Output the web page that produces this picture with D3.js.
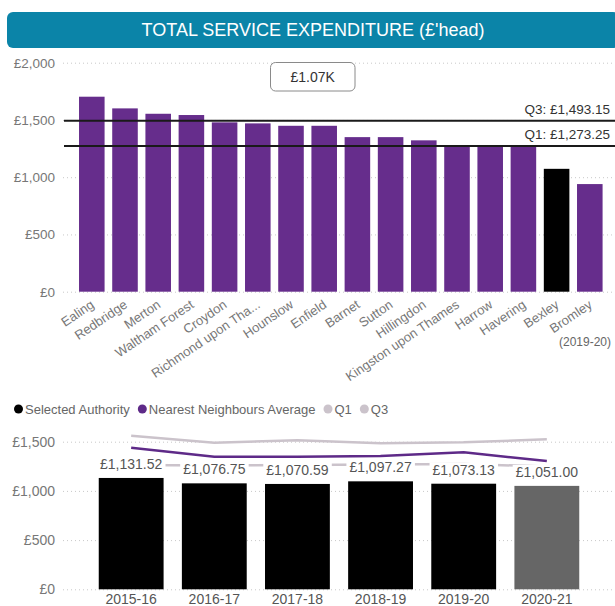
<!DOCTYPE html>
<html>
<head>
<meta charset="utf-8">
<script src="https://cdn.jsdelivr.net/npm/d3@7"></script>
<style>
  body { margin:0; background:#fff; }
  svg { display:block; font-family:"Segoe UI","Liberation Sans",Arial,sans-serif; }
</style>
</head>
<body>
<div id="chart"></div>
<script>
// top chart: spend per head by borough (2019-20)
const boroughs = ["Ealing","Redbridge","Merton","Waltham Forest","Croydon","Richmond upon Tha...","Hounslow","Enfield","Barnet","Sutton","Hillingdon","Kingston upon Thames","Harrow","Havering","Bexley","Bromley"]
const spend = [1703,1601,1554,1543,1479,1470,1449,1449,1350,1350,1322,1280,1278,1278,1073.13,940]
const selected = "Bexley"
const quartiles = [{name:"Q3",value:1493.15},{name:"Q1",value:1273.25}]
const topTicks = [0,500,1000,1500,2000]

// bottom chart: trend for selected authority
const years = ["2015-16","2016-17","2017-18","2018-19","2019-20","2020-21"]
const selectedTrend = [1131.52,1076.75,1070.59,1097.27,1073.13,1051.00]
const nnAverage = [1439,1348,1348,1355,1392,1304]
const q1Trend = [1262,1258,1262,1268,1273.25,1248]
const q3Trend = [1561,1490,1515,1484,1493.15,1524]
const bottomTicks = [0,500,1000,1500]

const W = 615, H = 606
const gbp = d3.format(",")
const gbp2 = d3.format(",.2f")

const svg = d3.select("#chart").append("svg")
    .attr("width",W).attr("height",H)

// title bar
svg.append("rect")
    .attr("x",7).attr("y",12).attr("width",612).attr("height",36)
    .attr("rx",6).attr("fill","#0b84a8")
svg.append("text")
    .attr("x",313).attr("y",30)
    .attr("text-anchor","middle").attr("dominant-baseline","central")
    .attr("fill","#fff").style("font-size","18px")
    .text("TOTAL SERVICE EXPENDITURE (£'head)")

// ---- top chart ----
const y1 = d3.scaleLinear().domain([0,2000]).range([291.7,62.7])
const x1 = d3.scaleBand().domain(boroughs).range([75.2,606.4])
    .paddingInner(.23).paddingOuter(.115)

const topAxis = svg.append("g")
    .attr("transform","translate(63,0)")
    .call(d3.axisLeft(y1).tickValues(topTicks).tickSize(-(W-63)).tickPadding(8)
        .tickFormat(d=>"£"+gbp(d)))
topAxis.select(".domain").remove()
topAxis.selectAll(".tick line").attr("stroke","#c8c8c8").attr("stroke-dasharray","1,3")
topAxis.selectAll(".tick text").attr("fill","#777").style("font-size","13.5px")

svg.append("g").selectAll("rect")
    .data(boroughs)
    .join("rect")
    .attr("x",d=>x1(d))
    .attr("y",(d,i)=>y1(spend[i]))
    .attr("width",x1.bandwidth())
    .attr("height",(d,i)=>y1(0)-y1(spend[i]))
    .attr("fill",d=>d===selected ? "#000" : "#662d8c")

// quartile lines
quartiles.forEach(q=>{
    svg.append("line")
        .attr("x1",64).attr("x2",W)
        .attr("y1",y1(q.value)).attr("y2",y1(q.value))
        .attr("stroke","#1a1a1a").attr("stroke-width",2)
    svg.append("text")
        .attr("x",610).attr("y",y1(q.value)-7)
        .attr("text-anchor","end").attr("fill","#333")
        .style("font-size","13.5px")
        .text(q.name+": £"+gbp2(q.value))
})

// x labels
svg.append("g").selectAll("text")
    .data(boroughs)
    .join("text")
    .attr("transform",d=>`translate(${x1(d)+x1.bandwidth()/2-2},299) rotate(-34)`)
    .attr("dy","0.72em")
    .attr("text-anchor","end")
    .attr("fill","#777")
    .style("font-size","13px")
    .text(d=>d)

svg.append("text")
    .attr("x",611).attr("y",346)
    .attr("text-anchor","end").attr("fill","#666")
    .style("font-size","12px")
    .text("(2019-20)")

// selected value card
const selVal = spend[boroughs.indexOf(selected)]
svg.append("rect")
    .attr("x",270.5).attr("y",62.5).attr("width",84.5).attr("height",28.5)
    .attr("rx",5).attr("fill","#fff").attr("stroke","#8a8a8a")
svg.append("text")
    .attr("x",312.7).attr("y",77)
    .attr("text-anchor","middle").attr("dominant-baseline","central")
    .attr("fill","#333").style("font-size","14px")
    .text("£"+d3.format(".3s")(selVal).toUpperCase())

// ---- bottom chart ----
const y2 = d3.scaleLinear().domain([0,1500]).range([589.3,441.7])
const x2 = d3.scaleBand().domain(years).range([63,615])
    .paddingInner(.22).paddingOuter(.43)

const botAxis = svg.append("g")
    .attr("transform","translate(63,0)")
    .call(d3.axisLeft(y2).tickValues(bottomTicks).tickSize(-(W-63)).tickPadding(8)
        .tickFormat(d=>"£"+gbp(d)))
botAxis.select(".domain").remove()
botAxis.selectAll(".tick line").attr("stroke","#c8c8c8").attr("stroke-dasharray","1,3")
botAxis.selectAll(".tick text").attr("fill","#777").style("font-size","14px")

svg.append("g").selectAll("rect")
    .data(years)
    .join("rect")
    .attr("x",d=>x2(d))
    .attr("y",(d,i)=>y2(selectedTrend[i]))
    .attr("width",x2.bandwidth())
    .attr("height",(d,i)=>y2(0)-y2(selectedTrend[i]))
    .attr("fill",(d,i)=>i===years.length-1 ? "#666" : "#000")

const line = d3.line()
    .x((d,i)=>x2(years[i])+x2.bandwidth()/2)
    .y(d=>y2(d))

const lines = [
    {name:"Q3",values:q3Trend,color:"#cbc3cb"},
    {name:"Q1",values:q1Trend,color:"#cbc3cb"},
    {name:"Nearest Neighbours Average",values:nnAverage,color:"#5e2a88"}
]
svg.append("g").selectAll("path")
    .data(lines)
    .join("path")
    .attr("d",d=>line(d.values))
    .attr("fill","none")
    .attr("stroke",d=>d.color)
    .attr("stroke-width",2.5)

// data labels with white background
const labels = svg.append("g").selectAll("g")
    .data(years)
    .join("g")
labels.append("text")
    .attr("x",d=>x2(d)+x2.bandwidth()/2)
    .attr("y",(d,i)=>y2(selectedTrend[i])-9)
    .attr("text-anchor","middle")
    .attr("fill","#555")
    .style("font-size","14px")
    .text((d,i)=>"£"+gbp2(selectedTrend[i]))
labels.each(function(){
    const g = d3.select(this)
    const bb = g.select("text").node().getBBox()
    g.insert("rect","text")
        .attr("x",bb.x-3).attr("y",bb.y+1)
        .attr("width",bb.width+6).attr("height",bb.height-2)
        .attr("fill","#fff")
})

svg.append("g").selectAll("text")
    .data(years)
    .join("text")
    .attr("x",d=>x2(d)+x2.bandwidth()/2)
    .attr("y",604)
    .attr("text-anchor","middle")
    .attr("fill","#555")
    .style("font-size","14px")
    .text(d=>d)

// legend
const legendItems = [
    {name:"Selected Authority",color:"#000"},
    {name:"Nearest Neighbours Average",color:"#5e2a88"},
    {name:"Q1",color:"#cbc3cb"},
    {name:"Q3",color:"#cbc3cb"}
]
const legend = svg.append("g")
let lx = 14
legendItems.forEach(item=>{
    legend.append("circle")
        .attr("cx",lx+4.5).attr("cy",409).attr("r",4.5)
        .attr("fill",item.color)
    const t = legend.append("text")
        .attr("x",lx+11).attr("y",409)
        .attr("dominant-baseline","central")
        .attr("fill","#666").style("font-size","13px")
        .text(item.name)
    lx += 11 + t.node().getComputedTextLength() + 8
})
</script>
</body>
</html>
